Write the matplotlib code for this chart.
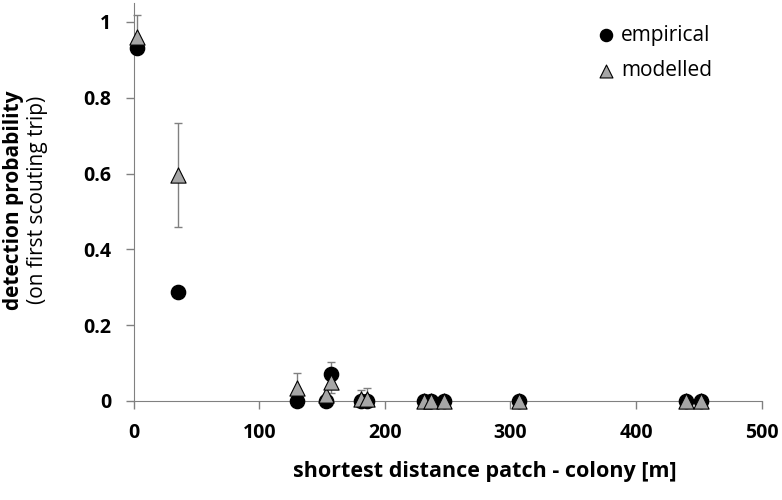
import matplotlib
matplotlib.use('Agg')
import matplotlib.pyplot as plt

plt.rcParams['font.family'] = ['Open Sans', 'DejaVu Sans']

# empirical
emp_x = [3, 35, 130, 153, 157, 181, 186, 231, 237, 247, 307, 440, 452]
emp_y = [0.93, 0.288, 0.0, 0.0, 0.071, 0.0, 0.0, 0.0, 0.0, 0.0, 0.0, 0.0, 0.0]

# modelled (with lower / upper error)
mod_x = [3, 35, 130, 153, 157, 181, 186, 231, 237, 247, 307, 440, 452]
mod_y = [0.96, 0.595, 0.033, 0.015, 0.05, 0.004, 0.006, 0.0, 0.0, 0.0, 0.0, 0.0, 0.0]
mod_lo = [0.03, 0.137, 0.033, 0.0, 0.03, 0.004, 0.006, 0.0, 0.0, 0.0, 0.0, 0.0, 0.0]
mod_hi = [0.058, 0.138, 0.041, 0.0, 0.052, 0.024, 0.027, 0.0, 0.0, 0.0, 0.0, 0.0, 0.0]

fig = plt.figure(figsize=(7.82, 5.0), dpi=100)
ax = fig.add_axes([0.171, 0.198, 0.803, 0.796])

ax.errorbar(mod_x, mod_y, yerr=[mod_lo, mod_hi], fmt='none', ecolor='#808080',
            elinewidth=1, capsize=3, capthick=1, zorder=2, clip_on=False)
ax.scatter(emp_x, emp_y, s=105, c='black', marker='o', zorder=3,
           label='empirical', clip_on=False)
ax.scatter(mod_x, mod_y, s=120, c='#a6a6a6', marker='^', edgecolors='black',
           linewidths=0.8, zorder=4, label='modelled', clip_on=False)

ax.set_xlim(0, 500)
ax.set_ylim(0, 1.05)
ax.set_xticks([0, 100, 200, 300, 400, 500])
ax.set_yticks([0, 0.2, 0.4, 0.6, 0.8, 1.0])
ax.set_yticklabels(['0', '0.2', '0.4', '0.6', '0.8', '1'])

for s in ['top', 'right']:
    ax.spines[s].set_visible(False)
for s in ['left', 'bottom']:
    ax.spines[s].set_color('#808080')
    ax.spines[s].set_zorder(1)
ax.tick_params(axis='both', colors='#808080', labelcolor='black', labelsize=14,
               length=6, width=1, pad=10)
for lbl in ax.get_xticklabels() + ax.get_yticklabels():
    lbl.set_fontweight('bold')

fig.text(0.62, 0.058, 'shortest distance patch - colony [m]', fontsize=15.5,
         fontweight='bold', ha='center', va='center')
fig.text(0.004, 0.6, 'detection probability', rotation=90, fontsize=15,
         fontweight='bold', ha='left', va='center')
fig.text(0.035, 0.6, '(on first scouting trip)', rotation=90, fontsize=15,
         ha='left', va='center')

ax.legend(loc='upper right', bbox_to_anchor=(0.944, 0.982), frameon=False,
          fontsize=15, handletextpad=0.1, labelspacing=0.7, borderpad=0.2,
          handlelength=1.2, markerscale=0.85)

fig.savefig('out.png', dpi=100)
